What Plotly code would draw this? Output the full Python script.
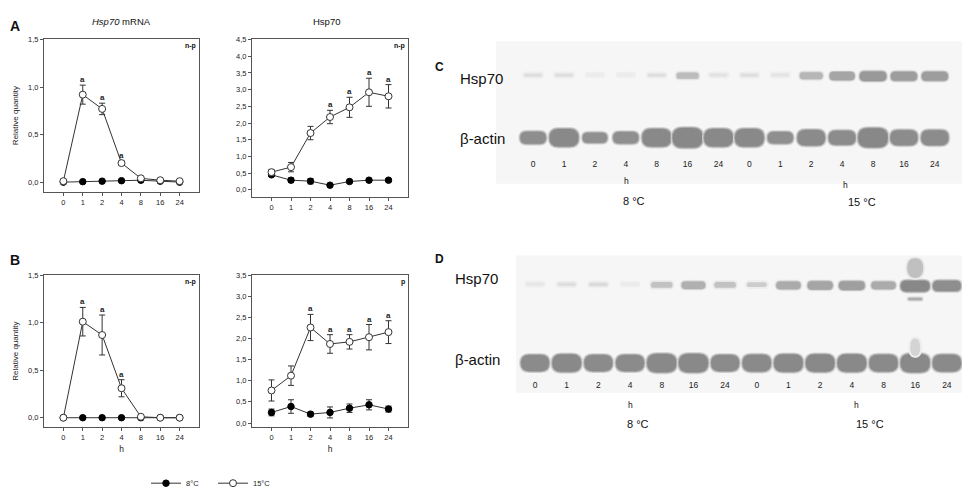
import plotly.graph_objects as go

W, H = 970, 490

# ---- line plot data (relative quantity) ----
hours = ["0", "1", "2", "4", "8", "16", "24"]

mrna_a_8 = [0.0, 0.005, 0.01, 0.015, 0.02, 0.01, 0.0]
mrna_a_8_err = [0.005, 0.005, 0.005, 0.008, 0.01, 0.005, 0.005]
mrna_a_15 = [0.01, 0.92, 0.77, 0.20, 0.04, 0.02, 0.01]
mrna_a_15_err = [0.01, 0.10, 0.06, 0.02, 0.01, 0.01, 0.005]

prot_a_8 = [0.45, 0.29, 0.26, 0.14, 0.25, 0.29, 0.29]
prot_a_8_err = [0.05, 0.07, 0.08, 0.05, 0.03, 0.05, 0.05]
prot_a_15 = [0.53, 0.68, 1.70, 2.18, 2.47, 2.92, 2.80]
prot_a_15_err = [0.08, 0.14, 0.20, 0.20, 0.30, 0.42, 0.35]

mrna_b_8 = [0.0, 0.0, 0.0, 0.0, 0.0, 0.0, 0.0]
mrna_b_8_err = [0.0, 0.0, 0.0, 0.0, 0.0, 0.0, 0.0]
mrna_b_15 = [0.0, 1.01, 0.87, 0.31, 0.01, 0.0, 0.0]
mrna_b_15_err = [0.0, 0.15, 0.21, 0.09, 0.0, 0.0, 0.0]

prot_b_8 = [0.25, 0.39, 0.21, 0.25, 0.35, 0.43, 0.33]
prot_b_8_err = [0.08, 0.16, 0.05, 0.13, 0.10, 0.12, 0.07]
prot_b_15 = [0.77, 1.12, 2.26, 1.87, 1.92, 2.03, 2.15]
prot_b_15_err = [0.25, 0.23, 0.31, 0.22, 0.17, 0.30, 0.27]

# points marked "a"
sig_a_mrna = ["1", "2", "4"]
sig_a_prot = ["4", "8", "16", "24"]
sig_b_mrna = ["1", "2", "4"]
sig_b_prot = ["2", "4", "8", "16", "24"]

# ---- western blots: lanes and band strengths (0..1) ----
blot_lanes = ["0", "1", "2", "4", "8", "16", "24", "0", "1", "2", "4", "8", "16", "24"]
hsp_c = [0.15, 0.15, 0.03, 0.03, 0.15, 0.45, 0.12, 0.15, 0.10, 0.50, 0.65, 0.75, 0.72, 0.72]
actin_c = [0.45, 0.85, 0.30, 0.40, 0.85, 1.0, 0.85, 0.85, 0.40, 0.70, 0.60, 0.95, 0.65, 0.65]
hsp_d = [0.08, 0.15, 0.18, 0.04, 0.40, 0.55, 0.40, 0.30, 0.60, 0.65, 0.70, 0.60, 0.90, 0.85]
actin_d = [0.75, 0.85, 0.75, 0.75, 0.90, 0.90, 0.75, 0.80, 0.85, 0.85, 0.85, 0.80, 0.90, 0.80]

FONT = "Arial, Liberation Sans, sans-serif"
LINE = "#333333"
FRAME = "#555555"


def dom_x(a, b):
    return [a / W, b / W]


def dom_y(top, bot):
    return [1 - bot / H, 1 - top / H]


fig = go.Figure()

panels = [
    ("x", "y", mrna_a_8, mrna_a_8_err, mrna_a_15, mrna_a_15_err, sig_a_mrna),
    ("x2", "y2", prot_a_8, prot_a_8_err, prot_a_15, prot_a_15_err, sig_a_prot),
    ("x3", "y3", mrna_b_8, mrna_b_8_err, mrna_b_15, mrna_b_15_err, sig_b_mrna),
    ("x4", "y4", prot_b_8, prot_b_8_err, prot_b_15, prot_b_15_err, sig_b_prot),
]

annotations = []
for i, (xa, ya, v8, e8, v15, e15, sig) in enumerate(panels):
    fig.add_trace(go.Scatter(
        x=hours, y=v8, xaxis=xa, yaxis=ya, name="8\u00b0C", mode="lines+markers",
        line=dict(color=LINE, width=1),
        marker=dict(symbol="circle", size=6.5, color="black", line=dict(color="black", width=1)),
        error_y=dict(type="data", array=e8, color=LINE, thickness=1, width=3),
        showlegend=(i == 0), legendgroup="8"))
    fig.add_trace(go.Scatter(
        x=hours, y=v15, xaxis=xa, yaxis=ya, name="15\u00b0C", mode="lines+markers",
        line=dict(color=LINE, width=1),
        marker=dict(symbol="circle", size=7, color="white", line=dict(color=LINE, width=1)),
        error_y=dict(type="data", array=e15, color=LINE, thickness=1, width=3),
        showlegend=(i == 0), legendgroup="15"))
    for h in sig:
        k = hours.index(h)
        annotations.append(dict(x=k, y=v15[k] + e15[k], xref=xa, yref=ya, text="<b>a</b>",
                                showarrow=False, yanchor="bottom", yshift=-1,
                                font=dict(size=8, family=FONT, color="#222")))

# axes
plot_dom = {
    "": (dom_x(36, 191), dom_y(28, 183), [-0.1, 1.5], 0.5),
    "2": (dom_x(244, 400), dom_y(28, 188), [-0.2, 4.5], 0.5),
    "3": (dom_x(36, 191), dom_y(268, 423), [-0.1, 1.5], 0.5),
    "4": (dom_x(244, 400), dom_y(268, 423), [-0.1, 3.5], 0.5),
}
tickfont = dict(size=7.5, family=FONT, color="#222")
layout_axes = {}
for key, (xd, yd, yr, dt) in plot_dom.items():
    layout_axes["xaxis" + key] = dict(
        domain=xd, anchor="y" + key, type="category", range=[-1, 7],
        showline=True, mirror=True, linecolor=FRAME, linewidth=1,
        ticks="outside", ticklen=3, tickcolor=FRAME, showgrid=False, zeroline=False,
        tickfont=tickfont,
        title=dict(text="h" if key in ("3", "4") else "", font=dict(size=8.5, family=FONT, color="#222"),
                   standoff=4))
    layout_axes["yaxis" + key] = dict(
        domain=yd, anchor="x" + key, range=yr, dtick=dt, tick0=0, tickformat=".1f",
        showline=True, mirror=True, linecolor=FRAME, linewidth=1,
        ticks="outside", ticklen=3, tickcolor=FRAME, showgrid=False, zeroline=False,
        tickfont=tickfont,
        title=dict(text="Relative quantity" if key in ("", "3") else "",
                   font=dict(size=8, family=FONT, color="#222"), standoff=8))

# blot axes: x = lane index, y = 0 (beta-actin row) / 1 (Hsp70 row)
blots = [
    ("5", hsp_c, actin_c, dom_x(488, 967), dom_y(30, 148), [-1.2, 14.3], [-0.31, 1.53], 30.9, 64.0),
    ("6", hsp_d, actin_d, dom_x(508, 962), dom_y(248, 373), [-0.6, 13.73], [-0.19, 1.36], 31.7, 81.0),
]
shapes = []


def pill(xc, yc, wpx, hpx, sx, sy):
    hw = wpx / 2 / sx
    hh = hpx / 2 / sy
    r = min(hw, hpx / 2 / sx)
    x0, x1, y0, y1 = xc - hw, xc + hw, yc - hh, yc + hh
    return (f"M {x0 + r},{y0} L {x1 - r},{y0} Q {x1},{y0} {x1},{yc} Q {x1},{y1} {x1 - r},{y1} "
            f"L {x0 + r},{y1} Q {x0},{y1} {x0},{yc} Q {x0},{y0} {x0 + r},{y0} Z")


def band(key, xc, yc, wpx, hpx, g, sx, sy):
    # soft edge: faint halo, then the band body
    for pad, col in ((4, min(g + 75, 238)), (2, min(g + 35, 238)), (0, g)):
        shapes.append(dict(type="path", xref="x" + key, yref="y" + key, layer="below",
                           path=pill(xc, yc, wpx + pad, hpx + pad, sx, sy),
                           fillcolor=f"rgb({col},{col},{col})", line=dict(width=0)))


for key, hsp, act, xd, yd, xr, yr, sx, sy in blots:
    layout_axes["xaxis" + key] = dict(
        domain=xd, anchor="y" + key, range=xr, showgrid=False, zeroline=False, showline=False,
        tickmode="array", tickvals=list(range(len(blot_lanes))), ticktext=blot_lanes,
        ticks="", tickfont=dict(size=8.5, family=FONT, color="#222"))
    layout_axes["yaxis" + key] = dict(
        domain=yd, anchor="x" + key, range=yr, showgrid=False, zeroline=False,
        showline=False, showticklabels=False, ticks="")
    # blot background
    bg_bottom = 175 if key == "5" else 388
    shapes.append(dict(type="rect", xref="paper", yref="paper", x0=xd[0], x1=xd[1],
                       y0=1 - bg_bottom / H, y1=yd[1], fillcolor="#f6f6f6",
                       line=dict(width=0), layer="below"))
    for k in range(len(blot_lanes)):
        a = act[k]
        band(key, k, 0, 22 + 8 * a, 6 + 14 * a, int(148 - 12 * a), sx, sy)
        s = hsp[k]
        band(key, k, 1 - 0.03 * s, 16 + 14 * s, 2 + 10 * s, int(240 - 115 * s), sx, sy)

# smear in blot D, 15 degC lane 16
band("6", 12, 1.2, 16, 20, 192, 31.7, 81.0)
band("6", 12, 0.81, 14, 2.5, 175, 31.7, 81.0)
band("6", 12, 0.2, 10, 18, 212, 31.7, 81.0)


def txt(x, y, s, size, bold=False, anchor="center"):
    if bold:
        s = "<b>" + s + "</b>"
    annotations.append(dict(x=x / W, y=1 - y / H, xref="paper", yref="paper", text=s,
                            showarrow=False, xanchor=anchor, yanchor="middle",
                            font=dict(size=size, family=FONT, color="#111")))


# panel letters and titles
txt(0, 14, "A", 14, bold=True, anchor="left")
txt(0, 253, "B", 14, bold=True, anchor="left")
txt(113, 10, "<i>Hsp70</i> mRNA", 9.5)
txt(318, 10, "Hsp70", 9.5)
txt(190, 35, "n-p", 7, bold=True, anchor="right")
txt(399, 35, "n-p", 7, bold=True, anchor="right")
txt(190, 275, "n-p", 7, bold=True, anchor="right")
txt(399, 275, "p", 7, bold=True, anchor="right")

# blot labels
txt(425, 56, "C", 12, bold=True, anchor="left")
txt(450, 68, "Hsp70", 15, anchor="left")
txt(450, 129, "\u03b2-actin", 15, anchor="left")
txt(618, 172, "h", 8.5)
txt(837, 176, "h", 8.5)
txt(626, 193, "8 \u00b0C", 11)
txt(854, 194, "15 \u00b0C", 11)

txt(425, 252, "D", 12, bold=True, anchor="left")
txt(445, 271, "Hsp70", 15, anchor="left")
txt(445, 354, "\u03b2-actin", 15, anchor="left")
txt(622, 400, "h", 8.5)
txt(848, 400, "h", 8.5)
txt(630, 420, "8 \u00b0C", 11)
txt(862, 420, "15 \u00b0C", 11)

fig.update_layout(
    width=W, height=H, margin=dict(l=0, r=0, t=0, b=0),
    paper_bgcolor="white", plot_bgcolor="rgba(0,0,0,0)",
    separators=",.",
    font=dict(family=FONT, color="#222"),
    showlegend=True,
    legend=dict(orientation="h", x=205 / W, y=1 - 480 / H, xanchor="center", yanchor="middle",
                font=dict(size=7.5, family=FONT), bgcolor="rgba(0,0,0,0)", itemwidth=30,
                entrywidth=22, tracegroupgap=0),
    annotations=annotations,
    shapes=shapes,
    **layout_axes,
)

fig.write_html("out.html")
